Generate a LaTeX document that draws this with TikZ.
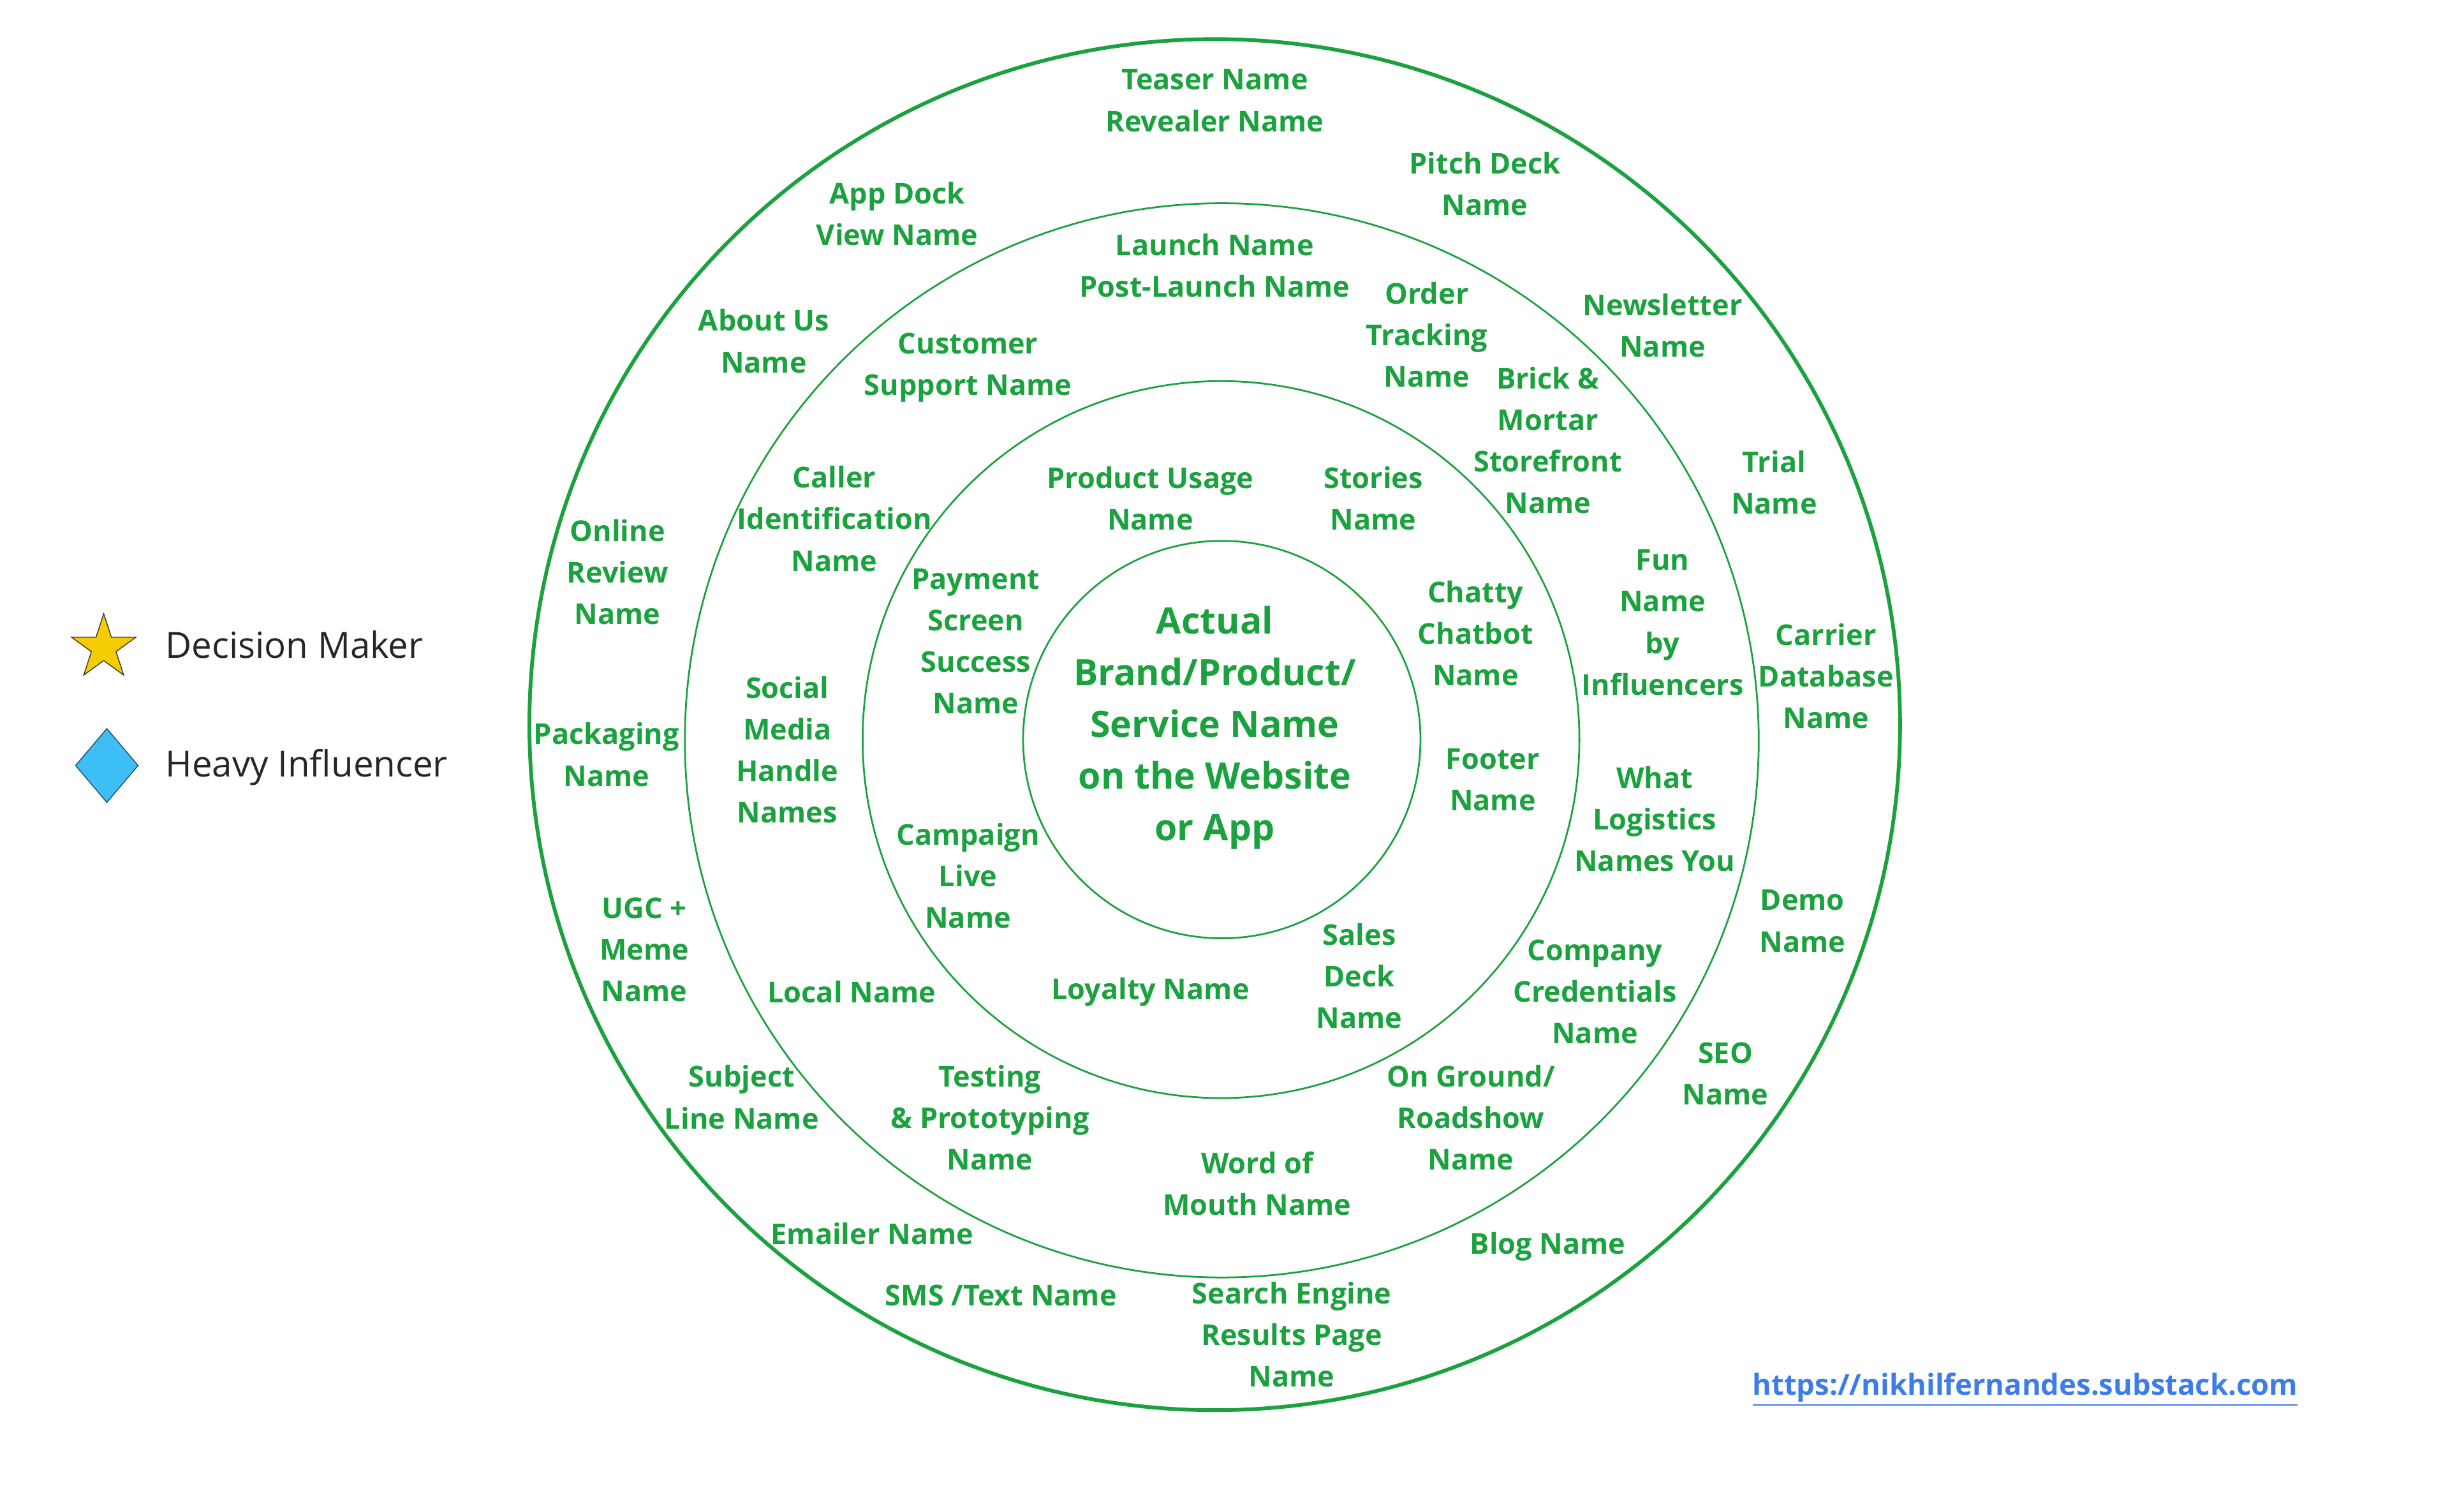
\documentclass[tikz,border=0pt]{standalone}
\usepackage{fontspec}
\setmainfont{Open Sans}
\usetikzlibrary{shapes.geometric}
\definecolor{ringgreen}{HTML}{1BA23F}
\definecolor{starfill}{HTML}{F5CC00}
\definecolor{diafill}{HTML}{3DBFF5}
\definecolor{linkblue}{HTML}{3C7CEB}
\definecolor{keygrey}{HTML}{262626}

\begin{document}
\begin{tikzpicture}[x=0.025cm,y=-0.025cm,
  lbl/.style={align=center,text=ringgreen,inner sep=0pt,
    font=\bfseries\fontsize{13}{18.8}\selectfont},
  core/.style={align=center,text=ringgreen,inner sep=0pt,
    font=\bfseries\fontsize{16.5}{23.4}\selectfont},
  ring/.style={draw=ringgreen,line width=0.8pt},
  key/.style={anchor=west,text=keygrey,inner sep=0pt,
    font=\fontsize{16.3}{19}\selectfont}]
  \useasboundingbox (0,0) rectangle (1568,945);

  % rings
  \draw[ring,line width=1.7pt] (773,461) circle[radius=10.9cm];
  \draw[ring] (777.5,471) circle[radius=8.54cm];
  \draw[ring] (777,470.5) circle[radius=5.7cm];
  \draw[ring] (777.5,470.5) circle[radius=3.16cm];

  \node[core] (brand) at (773,463)
    {Actual\\Brand/Product/\\Service Name\\on the Website\\or App};

  % outer ring
  \foreach \n/\x/\y/\t in {
      teaser/773/64/{Teaser Name\\Revealer Name},
      pitch/945/117/{Pitch Deck\\Name},
      appdock/571/136/{App Dock\\View Name},
      about/486/217/{About Us\\Name},
      news/1058/207/{Newsletter\\Name},
      trial/1129/307/{Trial\\Name},
      review/393/364/{Online\\Review\\Name},
      carrier/1162/430/{Carrier\\Database\\Name},
      pack/386/480/{Packaging\\Name},
      ugc/410/604/{UGC +\\Meme\\Name},
      demo/1147/586/{Demo\\Name},
      seo/1098/683/{SEO\\Name},
      subject/472/698/{Subject\\Line Name},
      emailer/555/785/{Emailer Name},
      blog/985/793/{Blog Name},
      sms/637/824/{SMS /Text Name},
      serp/822/849/{Search Engine\\Results Page\\Name}}
    \node[lbl] (\n) at (\x,\y) {\t};

  % middle ring
  \foreach \n/\x/\y/\t in {
      launch/773/169/{Launch Name\\Post-Launch Name},
      order/908/213/{Order\\Tracking\\Name},
      support/616/234/{Customer\\Support Name},
      brick/985/280/{Brick \&\\Mortar\\Storefront\\Name},
      caller/531/330/{Caller\\Identification\\Name},
      fun/1058/396/{Fun\\Name\\by\\Influencers},
      social/501/477/{Social\\Media\\Handle\\Names},
      logistics/1053/521/{What\\Logistics\\Names You},
      local/542/631/{Local Name},
      creds/1015/631/{Company\\Credentials\\Name},
      testing/630/711/{Testing\\\& Prototyping\\Name},
      roadshow/936/711/{On Ground/\\Roadshow\\Name},
      mouth/800/753/{Word of\\Mouth Name}}
    \node[lbl] (\n) at (\x,\y) {\t};

  % inner ring
  \foreach \n/\x/\y/\t in {
      usage/732/317/{Product Usage\\Name},
      stories/874/317/{Stories\\Name},
      payment/621/408/{Payment\\Screen\\Success\\Name},
      chatbot/939/403/{Chatty\\Chatbot\\Name},
      footer/950/496/{Footer\\Name},
      campaign/616/557/{Campaign\\Live\\Name},
      sales/865/621/{Sales\\Deck\\Name},
      loyalty/732/631/{Loyalty Name}}
    \node[lbl] (\n) at (\x,\y) {\t};

  % legend
  \node[star,star points=5,star point ratio=2.618,draw=black!80,fill=starfill,
    line width=0.4pt,inner sep=0pt,minimum size=1.08cm] (decider) at (66,412) {};
  \node[key] (decidertxt) at (105,410) {Decision Maker};
  \node[diamond,draw=black!60!diafill,fill=diafill,line width=0.4pt,inner sep=0pt,
    minimum width=1cm,minimum height=1.18cm] (influencer) at (68,487) {};
  \node[key] (influencertxt) at (105,488) {Heavy Influencer};

  \node[anchor=west,text=linkblue,inner sep=0pt,
    font=\bfseries\fontsize{13.1}{16}\selectfont] (link) at (1115,884)
    {\underline{https://nikhilfernandes.substack.com}};
\end{tikzpicture}
\end{document}
